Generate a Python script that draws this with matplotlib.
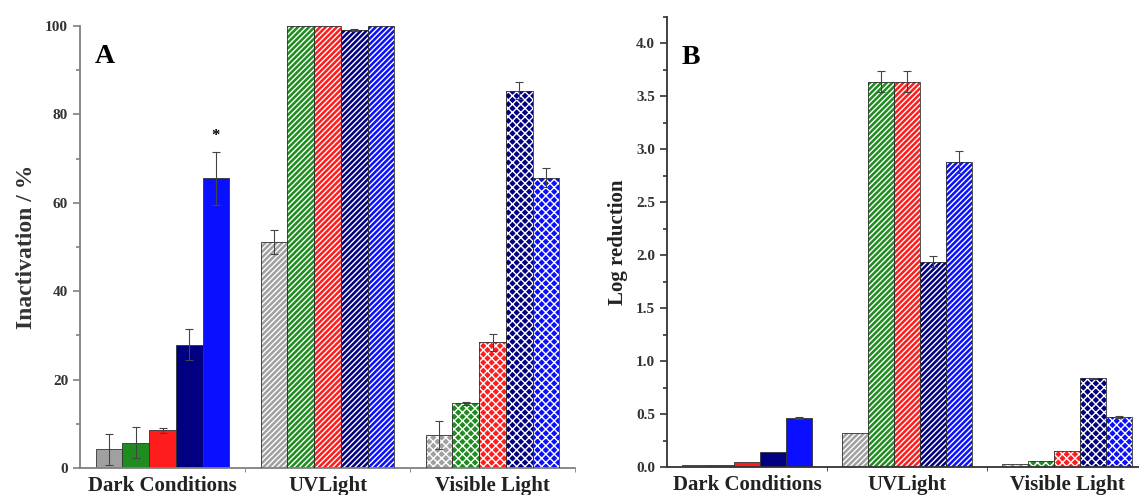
import numpy as np
import matplotlib
matplotlib.use("Agg")
import matplotlib.pyplot as plt
from matplotlib.ticker import MultipleLocator, FixedLocator

plt.rcParams['font.family'] = ['Liberation Serif', 'DejaVu Serif']
plt.rcParams['font.weight'] = 'bold'
plt.rcParams['hatch.linewidth'] = 1.0

conditions = ["Dark Conditions", "UVLight", "Visible Light"]
bar_colors = ["#a0a0a0", "#1f8c1f", "#ff1c1c", "#000080", "#0a10ff"]
hatches = [None, "//////", "xxxx"]

# panel A: inactivation (%), rows = condition, cols = sample
inact = np.array([[4.2, 5.7, 8.5, 27.9, 65.5],
                  [51.1, 100, 100, 99.1, 100],
                  [7.5, 14.6, 28.4, 85.4, 65.7]])
inact_err = np.array([[3.6, 3.5, 0.5, 3.5, 6.0],
                      [2.7, 0, 0, 0.3, 0],
                      [3.2, 0.3, 1.9, 2.0, 2.2]])

# panel B: log reduction
logred = np.array([[0.015, 0.015, 0.045, 0.14, 0.46],
                   [0.32, 3.64, 3.64, 1.94, 2.88],
                   [0.03, 0.06, 0.15, 0.84, 0.47]])
logred_err = np.array([[0, 0, 0, 0, 0.01],
                       [0, 0.1, 0.1, 0.05, 0.1],
                       [0, 0, 0, 0.005, 0.01]])

W, H = 1139, 495
fig = plt.figure(figsize=(W / 100, H / 100), dpi=100)
axA = fig.add_axes([80 / W, 27 / H, 495 / W, 442 / H])
axB = fig.add_axes([667 / W, 28 / H, 480 / W, 450 / H])

width = 0.162
offsets = (np.arange(5) - 2) * width
x = np.arange(len(conditions))


def draw(ax, vals, errs, spine_col):
    for ci in range(len(conditions)):
        for si in range(5):
            xp = x[ci] + offsets[si]
            if hatches[ci] is None:
                ax.bar(xp, vals[ci, si], width, color=bar_colors[si],
                       edgecolor="#333333", linewidth=0.6, zorder=2)
            else:
                ax.bar(xp, vals[ci, si], width, color=bar_colors[si],
                       edgecolor="white", hatch=hatches[ci], linewidth=0, zorder=2)
                ax.bar(xp, vals[ci, si], width, fill=False,
                       edgecolor="#333333", linewidth=0.6, zorder=3)
            if errs[ci, si] > 0:
                ax.errorbar(xp, vals[ci, si], yerr=errs[ci, si], fmt="none",
                            ecolor="#444444", elinewidth=0.8, capsize=3,
                            capthick=0.8, zorder=4)
    ax.set_xlim(-0.5, 2.5)
    for s in ["top", "right"]:
        ax.spines[s].set_visible(False)
    for s in ["left", "bottom"]:
        ax.spines[s].set_color(spine_col)
        ax.spines[s].set_linewidth(1.3)
    ax.set_xticks(x)
    ax.set_xticklabels(conditions, fontsize=15, fontweight="bold", color="#222222")
    ax.xaxis.set_minor_locator(FixedLocator([0.5, 1.5, 2.5]))
    ax.tick_params(axis="x", which="major", length=0, pad=6)
    ax.tick_params(axis="x", which="minor", length=3, direction="out", color=spine_col)
    ax.tick_params(axis="y", which="major", length=5, width=1.2, direction="out",
                   color=spine_col, labelsize=11, labelcolor="#333333")
    ax.tick_params(axis="y", which="minor", length=3, width=1.2, direction="out",
                   color=spine_col)
    for lab in ax.get_yticklabels():
        lab.set_fontweight("bold")


draw(axA, inact, inact_err, "#808080")
axA.set_ylim(0, 100)
axA.yaxis.set_major_locator(MultipleLocator(20))
axA.yaxis.set_minor_locator(MultipleLocator(10))
axA.set_ylabel("Inactivation / %", fontsize=17, fontweight="bold", color="#333333", labelpad=6)
axA.text(0.03, 0.93, "A", transform=axA.transAxes, fontsize=20, fontweight="bold",
         va="center", ha="left")
axA.text(x[0] + offsets[4], inact[0, 4] + inact_err[0, 4] + 1.8, "*",
         ha="center", va="bottom", fontsize=12, fontweight="bold")

draw(axB, logred, logred_err, "#333333")
axB.set_ylim(0, 4.25)
axB.yaxis.set_major_locator(MultipleLocator(0.5))
axB.yaxis.set_minor_locator(MultipleLocator(0.25))
axB.yaxis.set_major_formatter(matplotlib.ticker.FormatStrFormatter("%.1f"))
axB.set_ylabel("Log reduction", fontsize=15, fontweight="bold", color="#222222", labelpad=6)
axB.text(0.03, 0.91, "B", transform=axB.transAxes, fontsize=20, fontweight="bold",
         va="center", ha="left")

fig.savefig("out.png", dpi=100)
